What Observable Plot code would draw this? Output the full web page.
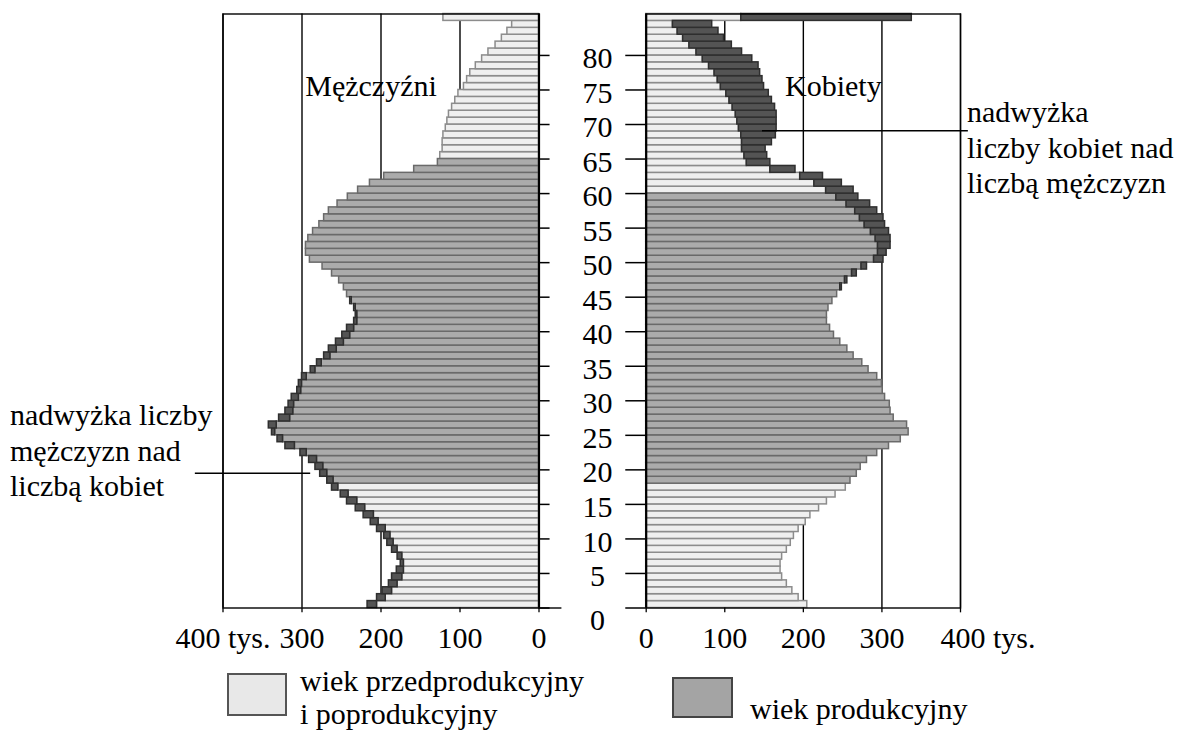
<!DOCTYPE html>
<html>
<head>
<meta charset="utf-8">
<script src="https://cdn.jsdelivr.net/npm/d3@7"></script>
<script src="https://cdn.jsdelivr.net/npm/@observablehq/plot@0.6"></script>
<style>
  body { margin: 0; background: #fff; }
  #wrap { position: relative; width: 1190px; height: 733px; overflow: hidden;
          font-family: 'Liberation Serif', 'Tinos', 'Times New Roman', 'DejaVu Serif', serif; color: #000; background:#fff; }
  .panel { position: absolute; top: 0; }
  .txt { position: absolute; font-size: 30px; line-height: 35.5px; white-space: nowrap; }
  .box { position: absolute; box-sizing: border-box; }
</style>
</head>
<body>
<div id="wrap"></div>
<script>
// ---------- DATA (thousands of people, index = age; last = 85+) ----------
const ages = d3.range(0, 86);
const ageLabels = ages.map(a => a === 85 ? "85+" : String(a));
const men = [
  217, 205, 198, 190, 186, 180, 175, 179, 186, 192,
  196, 205, 213, 222, 232, 243, 251, 262, 268, 277,
  283, 291, 302, 321, 331, 338, 342, 329, 321, 317,
  313, 306, 304, 300, 289, 281, 272, 266, 257, 249,
  243, 234, 232, 234, 239, 243, 247, 253, 262, 274,
  290, 295, 295, 292, 286, 278, 272, 266, 255, 242,
  229, 214, 196, 158, 128, 125, 122, 122, 121, 118,
  116, 114, 110, 106, 102,  95,  91,  87,  80,  72,
   64,  55,  47,  40,  34, 121
];
const women = [
  205, 194, 186, 179, 173, 171, 171, 173, 179, 184,
  188, 194, 203, 209, 220, 230, 241, 254, 260, 268,
  273, 281, 294, 309, 324, 334, 332, 315, 311, 310,
  304, 301, 300, 294, 283, 275, 264, 256, 247, 239,
  234, 230, 230, 232, 237, 243, 249, 256, 268, 281,
  302, 306, 311, 311, 309, 304, 302, 294, 285, 270,
  264, 249, 225, 190, 158, 154, 152, 160, 165, 166,
  166, 166, 164, 160, 156, 150, 148, 145, 143, 135,
  122, 109,  99,  92,  84, 338
];
// working-age ranges (wiek produkcyjny)
const menWorkingAge = [18, 64];
const womenWorkingAge = [18, 59];

const ageTicks = [0, 5, 10, 15, 20, 25, 30, 35, 40, 45, 50, 55, 60, 65, 70, 75, 80];
const valueTicks = [0, 100, 200, 300, 400];
const valueTickLabels = ["0", "100", "200", "300", "400 tys."];
const gridValues = [100, 200, 300, 400];

const panelTitles = ["Mężczyźni", "Kobiety"];
const legendLabels = ["wiek przedprodukcyjny", "i poprodukcyjny", "wiek produkcyjny"];
const noteMen = ["nadwyżka liczby", "mężczyzn nad", "liczbą kobiet"];
const noteWomen = ["nadwyżka", "liczby kobiet nad", "liczbą mężczyzn"];
// leader lines of the notes (age, value from, value to)
const noteMenLine = {age: 19.5, from: 289, to: 435};
const noteWomenLine = {age: 69.1, from: 148, to: 410};

// ---------- STYLE ----------
const FONT = "'Liberation Serif', 'Tinos', 'Times New Roman', 'DejaVu Serif', serif";
const lightFill = "#efefef", lightStroke = "#8c8c8c";
const prodFill = "#ababab", prodStroke = "#6a6a6a";
const darkFill = "#545454", darkStroke = "#2f2f2f";
const BAR_SW = 1.5;

const rows = ages.map(a => ({
  age: a,
  m: men[a],
  w: women[a],
  common: Math.min(men[a], women[a]),
  mProd: a >= menWorkingAge[0] && a <= menWorkingAge[1],
  wProd: a >= womenWorkingAge[0] && a <= womenWorkingAge[1]
}));

const H = 655, MT = 13.5, MB = 47.5;

function sideMarks(side) {
  const isM = side === "m";
  const prodKey = isM ? "mProd" : "wProd";
  const surplus = rows.filter(d => isM ? d.m > d.w : d.w > d.m);
  return [
    Plot.ruleX(gridValues, {stroke: "#000", strokeWidth: 1.4}),
    Plot.rectX(rows.filter(d => !d[prodKey]), {
      y1: "age", y2: d => d.age + 1, x1: 0, x2: "common",
      fill: lightFill, stroke: lightStroke, strokeWidth: BAR_SW
    }),
    Plot.rectX(rows.filter(d => d[prodKey]), {
      y1: "age", y2: d => d.age + 1, x1: 0, x2: "common",
      fill: prodFill, stroke: prodStroke, strokeWidth: BAR_SW
    }),
    Plot.rectX(surplus, {
      y1: "age", y2: d => d.age + 1, x1: "common", x2: side,
      fill: darkFill, stroke: darkStroke, strokeWidth: BAR_SW
    }),
    Plot.frame({stroke: "#000", strokeWidth: 1.4}),
    Plot.ruleX([0], {stroke: "#000", strokeWidth: 2.2}),
    Plot.ruleX(valueTicks, {x: d => d, y1: 0, y2: -0.7, stroke: "#000", strokeWidth: 1.3})
  ];
}

const style = {fontFamily: FONT, fontSize: "30px", background: "none", overflow: "visible", color: "#000"};
const tickText = {frameAnchor: "bottom", lineAnchor: "middle", dy: 30, fontSize: 30, fill: "#000"};
const titleText = {frameAnchor: "top", lineAnchor: "middle", dy: 72, fontSize: 30, fill: "#000"};

const left = Plot.plot({
  width: 562, height: H,
  marginLeft: 222.5, marginRight: 23.5, marginTop: MT, marginBottom: MB,
  x: {domain: [0, 400], reverse: true, axis: null},
  y: {domain: [0, 86], axis: null},
  style,
  marks: [
    ...sideMarks("m"),
    Plot.ruleY(ageTicks, {y: d => d, x1: 0, x2: -14, stroke: "#000", strokeWidth: 1.5}),
    Plot.ruleY([0], {x1: -29, x2: 0, stroke: "#000", strokeWidth: 1.4}),
    Plot.text(valueTicks, {x: d => d, text: (d, i) => valueTickLabels[i], textAnchor: "middle", ...tickText}),
    Plot.text([panelTitles[0]], {text: d => d, dx: -10, ...titleText}),
    Plot.ruleY([noteMenLine], {y: "age", x1: "from", x2: "to", stroke: "#000", strokeWidth: 1.6})
  ]
});

const right = Plot.plot({
  width: 628, height: H,
  marginLeft: 83.7, marginRight: 230, marginTop: MT, marginBottom: MB,
  x: {domain: [0, 400], axis: null},
  y: {domain: [0, 86], axis: null},
  style,
  marks: [
    ...sideMarks("w"),
    Plot.ruleY(ageTicks, {y: d => d, x1: 0, x2: -26, stroke: "#000", strokeWidth: 1.5}),
    Plot.text(ageTicks.filter(a => a > 0), {y: d => d, text: d => String(d), frameAnchor: "left", dx: -48.7, dy: 3,
      textAnchor: "middle", lineAnchor: "middle", fontSize: 30, fill: "#000"}),
    Plot.text(ageTicks.filter(a => a === 0), {y: d => d, text: d => String(d), frameAnchor: "left", dx: -48.7, dy: 12,
      textAnchor: "middle", lineAnchor: "middle", fontSize: 30, fill: "#000"}),
    Plot.text(valueTicks.slice(0, 4), {x: d => d, text: (d, i) => valueTickLabels[i], textAnchor: "middle", ...tickText}),
    Plot.text(valueTicks.slice(4), {x: d => d, text: () => valueTickLabels[4], dx: -20, textAnchor: "start", ...tickText}),
    Plot.text([panelTitles[1]], {text: d => d, dx: 30, ...titleText}),
    Plot.ruleY([noteWomenLine], {y: "age", x1: "from", x2: "to", stroke: "#000", strokeWidth: 1.6})
  ]
});

const wrap = document.getElementById("wrap");
left.classList.add("panel"); left.style.left = "0px";
right.classList.add("panel"); right.style.left = "562px";
wrap.appendChild(left);
wrap.appendChild(right);

function addText(lines, leftPx, topPx, lh) {
  const d = document.createElement("div");
  d.className = "txt";
  d.style.left = leftPx + "px";
  d.style.top = topPx + "px";
  if (lh) d.style.lineHeight = lh + "px";
  lines.forEach((t, i) => { if (i) d.appendChild(document.createElement("br")); d.appendChild(document.createTextNode(t)); });
  wrap.appendChild(d);
}
function addBox(l, t, w, h, fill, border) {
  const b = document.createElement("div");
  b.className = "box";
  Object.assign(b.style, {left: l + "px", top: t + "px", width: w + "px", height: h + "px",
    background: fill, border: "2px solid " + border});
  wrap.appendChild(b);
}
addText(noteWomen, 967, 94);
addText(noteMen, 10, 397);
addBox(227, 673, 60, 43, "#e8e8e8", "#555");
addText(legendLabels.slice(0, 2), 300, 664, 33);
addBox(672, 677, 61, 41, "#a4a4a4", "#444");
addText(legendLabels.slice(2), 750, 691);
</script>
</body>
</html>
